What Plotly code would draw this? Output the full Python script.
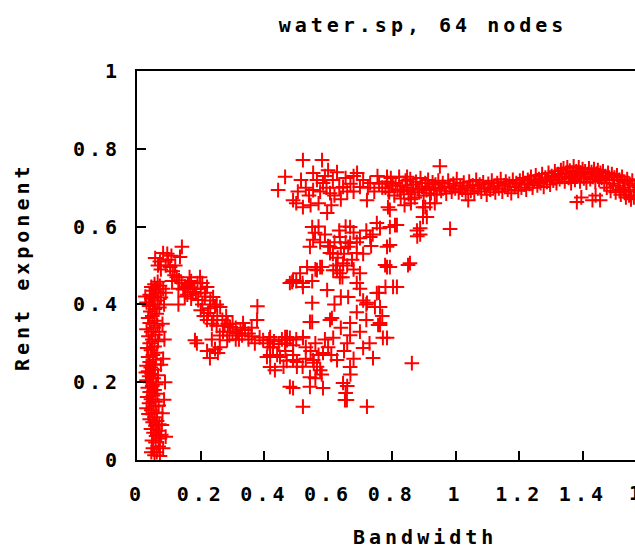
import plotly.graph_objects as go

title_text = "water.sp, 64 nodes"
x_label = "Bandwidth"
y_label = "Rent exponent"
x_ticks = [0, 0.2, 0.4, 0.6, 0.8, 1.0, 1.2, 1.4]
x_tick_labels = ["0", "0.2", "0.4", "0.6", "0.8", "1", "1.2", "1.4"]
cut_tick_label = "1.6"
y_ticks = [0, 0.2, 0.4, 0.6, 0.8, 1.0]
y_tick_labels = ["0", "0.2", "0.4", "0.6", "0.8", "1"]

# narrow spike near zero bandwidth
spike_pts = [
    (0.055, 0.012), (0.062, 0.020), (0.050, 0.030), (0.068, 0.035), (0.058, 0.045), (0.047, 0.050),
    (0.072, 0.055), (0.060, 0.062), (0.052, 0.070), (0.066, 0.075), (0.044, 0.080), (0.058, 0.088),
    (0.070, 0.092), (0.049, 0.097), (0.063, 0.100), (0.078, 0.090), (0.080, 0.120), (0.085, 0.155),
    (0.040, 0.105), (0.055, 0.110), (0.036, 0.118), (0.061, 0.122), (0.045, 0.128), (0.030, 0.133),
    (0.052, 0.138), (0.068, 0.140), (0.038, 0.146), (0.058, 0.150), (0.044, 0.156), (0.032, 0.162),
    (0.050, 0.166), (0.064, 0.170), (0.040, 0.175), (0.055, 0.180), (0.034, 0.186), (0.048, 0.190),
    (0.060, 0.195), (0.042, 0.200), (0.030, 0.205), (0.052, 0.210), (0.038, 0.215), (0.066, 0.218),
    (0.046, 0.222), (0.035, 0.228), (0.056, 0.232), (0.043, 0.238), (0.030, 0.242), (0.050, 0.246),
    (0.075, 0.245), (0.040, 0.252), (0.058, 0.258), (0.035, 0.265), (0.050, 0.270), (0.062, 0.276),
    (0.044, 0.282), (0.032, 0.288), (0.055, 0.292), (0.040, 0.300), (0.066, 0.305), (0.048, 0.310),
    (0.036, 0.318), (0.058, 0.322), (0.045, 0.330), (0.030, 0.336), (0.052, 0.340), (0.064, 0.346),
    (0.040, 0.352), (0.055, 0.358), (0.035, 0.365), (0.048, 0.370), (0.062, 0.376), (0.042, 0.382),
    (0.056, 0.388), (0.070, 0.392), (0.038, 0.396), (0.050, 0.400), (0.030, 0.405), (0.064, 0.410),
    (0.045, 0.415), (0.075, 0.418), (0.055, 0.420), (0.040, 0.425), (0.068, 0.430), (0.050, 0.435),
    (0.060, 0.440), (0.045, 0.445), (0.072, 0.448), (0.055, 0.452), (0.065, 0.458), (0.082, 0.440),
    (0.090, 0.430), (0.085, 0.400), (0.130, 0.400), (0.072, 0.010), (0.045, 0.020), (0.076, 0.065),
    (0.028, 0.225), (0.070, 0.330), (0.026, 0.420), (0.088, 0.200), (0.082, 0.260), (0.086, 0.310),
    (0.080, 0.350), (0.090, 0.060), (0.082, 0.030),
]

# descending branch from the spike top
branch_pts = [
    (0.057, 0.519), (0.072, 0.510), (0.082, 0.532), (0.090, 0.500), (0.098, 0.515), (0.104, 0.496),
    (0.112, 0.485), (0.135, 0.522), (0.141, 0.548), (0.118, 0.475), (0.125, 0.470), (0.132, 0.462),
    (0.140, 0.455), (0.151, 0.445), (0.145, 0.438), (0.160, 0.450), (0.168, 0.440), (0.175, 0.432),
    (0.158, 0.425), (0.185, 0.428), (0.198, 0.470), (0.220, 0.445), (0.192, 0.411), (0.205, 0.400),
    (0.213, 0.420), (0.239, 0.419), (0.223, 0.378), (0.230, 0.390), (0.245, 0.395), (0.261, 0.393),
    (0.252, 0.370), (0.268, 0.360), (0.240, 0.360), (0.275, 0.345), (0.285, 0.350), (0.292, 0.342),
    (0.300, 0.330), (0.314, 0.326), (0.283, 0.308), (0.310, 0.340), (0.325, 0.335), (0.339, 0.334),
    (0.350, 0.325), (0.333, 0.352), (0.360, 0.318), (0.377, 0.360), (0.378, 0.395), (0.182, 0.308),
    (0.188, 0.300), (0.229, 0.262), (0.254, 0.275), (0.260, 0.290), (0.245, 0.285), (0.396, 0.308),
    (0.385, 0.315), (0.410, 0.300), (0.415, 0.310), (0.427, 0.290), (0.418, 0.270), (0.430, 0.305),
    (0.445, 0.298), (0.455, 0.310), (0.465, 0.300), (0.471, 0.308), (0.480, 0.314), (0.466, 0.280),
    (0.490, 0.295), (0.500, 0.310), (0.502, 0.240), (0.502, 0.252), (0.433, 0.231), (0.460, 0.240),
    (0.408, 0.265), (0.440, 0.270), (0.470, 0.255), (0.490, 0.257), (0.490, 0.270), (0.521, 0.316),
    (0.360, 0.340), (0.350, 0.310), (0.370, 0.300), (0.320, 0.310), (0.300, 0.350), (0.215, 0.430),
    (0.200, 0.440), (0.190, 0.455), (0.170, 0.460), (0.120, 0.500), (0.108, 0.525), (0.095, 0.530),
    (0.075, 0.490), (0.066, 0.500), (0.200, 0.385), (0.210, 0.370), (0.235, 0.350), (0.250, 0.345),
    (0.270, 0.330), (0.260, 0.320), (0.235, 0.310), (0.220, 0.280), (0.418, 0.316), (0.449, 0.265),
    (0.418, 0.239), (0.418, 0.290), (0.465, 0.316), (0.110, 0.460), (0.130, 0.440), (0.150, 0.420),
    (0.170, 0.415), (0.180, 0.440), (0.230, 0.410), (0.250, 0.400), (0.220, 0.360), (0.280, 0.370),
    (0.290, 0.320), (0.310, 0.310), (0.330, 0.320), (0.205, 0.455), (0.165, 0.470),
]

# scattered cloud between 0.45 and 0.9
cloud_pts = [
    (0.487, 0.458), (0.520, 0.455), (0.550, 0.460), (0.560, 0.490), (0.637, 0.480), (0.663, 0.419),
    (0.710, 0.410), (0.720, 0.400), (0.550, 0.355), (0.606, 0.360), (0.669, 0.352), (0.763, 0.347),
    (0.785, 0.314), (0.741, 0.262), (0.521, 0.137), (0.722, 0.137), (0.653, 0.154), (0.543, 0.188),
    (0.565, 0.240), (0.490, 0.185), (0.512, 0.480), (0.575, 0.496), (0.628, 0.488), (0.637, 0.470),
    (0.700, 0.480), (0.785, 0.496), (0.851, 0.501), (0.480, 0.455), (0.521, 0.445), (0.597, 0.437),
    (0.722, 0.404), (0.747, 0.393), (0.804, 0.445), (0.550, 0.404), (0.543, 0.355), (0.612, 0.365),
    (0.757, 0.347), (0.669, 0.321), (0.616, 0.314), (0.710, 0.288), (0.863, 0.249), (0.471, 0.316),
    (0.521, 0.314), (0.490, 0.257), (0.553, 0.257), (0.584, 0.275), (0.628, 0.257), (0.669, 0.239),
    (0.575, 0.231), (0.543, 0.213), (0.480, 0.188), (0.584, 0.185), (0.647, 0.198), (0.655, 0.172),
    (0.659, 0.154), (0.530, 0.290), (0.545, 0.280), (0.560, 0.300), (0.570, 0.270), (0.555, 0.250),
    (0.530, 0.260), (0.520, 0.240), (0.580, 0.220), (0.560, 0.210), (0.600, 0.290), (0.590, 0.310),
    (0.610, 0.270), (0.640, 0.340), (0.660, 0.300), (0.650, 0.280), (0.680, 0.260), (0.670, 0.220),
    (0.660, 0.190), (0.700, 0.330), (0.720, 0.360), (0.730, 0.300), (0.640, 0.420), (0.620, 0.400),
    (0.690, 0.380), (0.760, 0.430), (0.794, 0.496), (0.816, 0.445), (0.753, 0.429), (0.763, 0.393),
    (0.763, 0.352), (0.772, 0.314), (0.779, 0.501), (0.780, 0.445), (0.770, 0.370), (0.857, 0.506),
    (0.490, 0.463), (0.500, 0.460), (0.565, 0.488), (0.534, 0.496), (0.581, 0.496), (0.616, 0.488),
    (0.647, 0.506),
]

# middle group around 0.5-0.62
mid_pts = [
    (0.550, 0.599), (0.559, 0.584), (0.553, 0.566), (0.606, 0.548), (0.637, 0.573), (0.663, 0.548),
    (0.669, 0.599), (0.690, 0.532), (0.732, 0.573), (0.753, 0.609), (0.810, 0.604), (0.785, 0.548),
    (0.606, 0.532), (0.543, 0.548), (0.620, 0.560), (0.640, 0.545), (0.650, 0.530), (0.655, 0.560),
    (0.630, 0.520), (0.660, 0.500), (0.675, 0.515), (0.680, 0.490), (0.645, 0.470), (0.690, 0.455),
    (0.700, 0.440), (0.625, 0.500), (0.615, 0.530), (0.600, 0.550), (0.590, 0.580), (0.570, 0.600),
    (0.575, 0.560), (0.635, 0.590), (0.655, 0.600), (0.680, 0.585), (0.700, 0.570), (0.720, 0.590),
    (0.740, 0.580), (0.735, 0.550), (0.710, 0.530), (0.690, 0.560), (0.669, 0.558), (0.794, 0.553),
    (0.794, 0.599), (0.763, 0.596), (0.816, 0.604), (0.794, 0.643), (0.898, 0.650), (0.910, 0.625),
    (0.889, 0.596), (0.889, 0.580), (0.879, 0.590), (0.880, 0.575), (0.898, 0.625), (0.983, 0.594),
]

# upper cluster 0.44-0.86 around 0.65-0.77
upper_pts = [
    (0.521, 0.771), (0.581, 0.771), (0.465, 0.728), (0.443, 0.694), (0.490, 0.668), (0.521, 0.650),
    (0.553, 0.738), (0.553, 0.694), (0.584, 0.712), (0.606, 0.686), (0.628, 0.740), (0.647, 0.702),
    (0.660, 0.690), (0.691, 0.738), (0.700, 0.702), (0.722, 0.668), (0.732, 0.712), (0.785, 0.728),
    (0.790, 0.690), (0.788, 0.650), (0.826, 0.694), (0.848, 0.728), (0.860, 0.670), (0.597, 0.635),
    (0.530, 0.700), (0.540, 0.680), (0.565, 0.720), (0.575, 0.690), (0.595, 0.700), (0.615, 0.720),
    (0.620, 0.680), (0.635, 0.700), (0.655, 0.725), (0.670, 0.710), (0.680, 0.690), (0.710, 0.720),
    (0.725, 0.700), (0.745, 0.690), (0.760, 0.710), (0.770, 0.700), (0.505, 0.690), (0.515, 0.720),
    (0.500, 0.660), (0.570, 0.660), (0.610, 0.655), (0.640, 0.670), (0.600, 0.745), (0.590, 0.730),
    (0.545, 0.655), (0.680, 0.730), (0.755, 0.730), (0.800, 0.710), (0.860, 0.660), (0.840, 0.655),
    (0.905, 0.650), (0.920, 0.660), (0.935, 0.660), (0.951, 0.755), (1.040, 0.668),
]

# dense plateau band from 0.78 to the right edge
band_pts = [
    (0.780, 0.700), (0.786, 0.715), (0.792, 0.688), (0.797, 0.725), (0.803, 0.705), (0.808, 0.680),
    (0.812, 0.712), (0.818, 0.695), (0.823, 0.728), (0.828, 0.672), (0.833, 0.705), (0.838, 0.690),
    (0.843, 0.718), (0.848, 0.700), (0.853, 0.683), (0.858, 0.722), (0.862, 0.695), (0.867, 0.708),
    (0.872, 0.675), (0.876, 0.715), (0.881, 0.698), (0.886, 0.688), (0.890, 0.725), (0.895, 0.703),
    (0.900, 0.680), (0.905, 0.712), (0.909, 0.694), (0.914, 0.720), (0.918, 0.700), (0.923, 0.686),
    (0.928, 0.714), (0.932, 0.697), (0.937, 0.708), (0.941, 0.682), (0.946, 0.718), (0.950, 0.700),
    (0.955, 0.692), (0.960, 0.712), (0.966, 0.700), (0.971, 0.685), (0.977, 0.718), (0.982, 0.703),
    (0.988, 0.690), (0.993, 0.710), (0.999, 0.698), (1.004, 0.722), (1.010, 0.688), (1.015, 0.705),
    (1.021, 0.695), (1.026, 0.713), (1.032, 0.684), (1.037, 0.700), (1.043, 0.716), (1.048, 0.692),
    (1.054, 0.706), (1.059, 0.686), (1.065, 0.720), (1.070, 0.698), (1.076, 0.708), (1.081, 0.690),
    (1.087, 0.714), (1.092, 0.700), (1.098, 0.682), (1.103, 0.710), (1.109, 0.695), (1.114, 0.718),
    (1.120, 0.703), (1.125, 0.688), (1.131, 0.712), (1.136, 0.698), (1.142, 0.722), (1.147, 0.690),
    (1.153, 0.706), (1.158, 0.716), (1.164, 0.695), (1.169, 0.710), (1.175, 0.686), (1.180, 0.720),
    (1.186, 0.702), (1.191, 0.712), (1.197, 0.692), (1.202, 0.718), (1.207, 0.700), (1.212, 0.725),
    (1.217, 0.708), (1.222, 0.695), (1.227, 0.720), (1.232, 0.710), (1.237, 0.728), (1.242, 0.700),
    (1.247, 0.716), (1.252, 0.732), (1.257, 0.706), (1.262, 0.722), (1.267, 0.712), (1.272, 0.735),
    (1.277, 0.702), (1.282, 0.726), (1.287, 0.715), (1.292, 0.738), (1.297, 0.708), (1.302, 0.730),
    (1.307, 0.718), (1.312, 0.742), (1.317, 0.712), (1.322, 0.735), (1.327, 0.722), (1.331, 0.745),
    (1.335, 0.728), (1.339, 0.750), (1.343, 0.716), (1.347, 0.738), (1.351, 0.752), (1.355, 0.725),
    (1.359, 0.744), (1.363, 0.712), (1.367, 0.733), (1.371, 0.755), (1.375, 0.720), (1.379, 0.742),
    (1.383, 0.730), (1.387, 0.752), (1.391, 0.716), (1.395, 0.738), (1.399, 0.748), (1.403, 0.724),
    (1.407, 0.742), (1.411, 0.713), (1.415, 0.735), (1.419, 0.750), (1.423, 0.722), (1.427, 0.740),
    (1.431, 0.728), (1.435, 0.748), (1.439, 0.715), (1.443, 0.736), (1.447, 0.745), (1.451, 0.720),
    (1.455, 0.738), (1.459, 0.725), (1.381, 0.663), (1.430, 0.668), (1.454, 0.668), (1.395, 0.675),
    (1.440, 0.680), (1.463, 0.742), (1.467, 0.712), (1.471, 0.730), (1.475, 0.700), (1.479, 0.738),
    (1.483, 0.720), (1.487, 0.692), (1.491, 0.735), (1.495, 0.710), (1.499, 0.726), (1.503, 0.688),
    (1.507, 0.732), (1.511, 0.705), (1.515, 0.720), (1.519, 0.682), (1.523, 0.728), (1.527, 0.700),
    (1.531, 0.715), (1.535, 0.675), (1.539, 0.722), (1.543, 0.695), (1.547, 0.710), (1.551, 0.670),
    (1.555, 0.718), (1.559, 0.690), (1.563, 0.705), (1.545, 0.680), (1.530, 0.690), (1.515, 0.695),
    (1.560, 0.675),
]

all_pts = spike_pts + branch_pts + cloud_pts + mid_pts + upper_pts + band_pts
xs = [p[0] for p in all_pts]
ys = [p[1] for p in all_pts]

FONT = "DejaVu Sans Mono"
TXT = dict(family=FONT, size=20, color="black", weight="bold")

fig = go.Figure()
fig.add_trace(go.Scatter(
    x=xs, y=ys, mode="markers",
    marker=dict(symbol="cross-thin", size=10.5, color="#ff0000",
                line=dict(color="#ff0000", width=2)),
    cliponaxis=True, showlegend=False,
))

fig.update_layout(
    width=635, height=548,
    margin=dict(l=137, r=0, t=71, b=88),
    paper_bgcolor="white", plot_bgcolor="white",
    font=TXT,
    title=dict(text=title_text, x=423 / 635, xref="container", xanchor="center",
               y=1 - 25 / 548, yref="container", yanchor="middle", font=TXT),
    xaxis=dict(range=[0, 498 / 318.5], tickvals=x_ticks, ticktext=x_tick_labels,
               ticks="inside", ticklen=9, tickwidth=1.5, tickcolor="black",
               showline=True, linecolor="black", linewidth=2, mirror=True,
               showgrid=False, zeroline=False, ticklabelstandoff=15),
    yaxis=dict(range=[0, 1], tickvals=y_ticks, ticktext=y_tick_labels,
               ticks="inside", ticklen=9, tickwidth=1.5, tickcolor="black",
               showline=True, linecolor="black", linewidth=2,
               showgrid=False, zeroline=False, ticklabelstandoff=10),
    annotations=[
        dict(text=x_label, xref="paper", yref="paper", x=(425 - 137) / 498, y=(460 - 537) / 389,
             xanchor="center", yanchor="middle", showarrow=False, font=TXT),
        dict(text=y_label, xref="paper", yref="paper", x=(22 - 137) / 498, y=(460 - 267) / 389,
             xanchor="center", yanchor="middle", textangle=-90, showarrow=False, font=TXT),
        dict(text=cut_tick_label, xref="paper", yref="paper", x=(633 - 137) / 498, y=(460 - 493) / 389,
             xanchor="left", yanchor="middle", showarrow=False, font=TXT),
    ],
)

# widen the character pitch to resemble the wide bitmap font of the original
post = ("document.querySelectorAll('svg text').forEach(function(t){"
        "t.style.letterSpacing='4px';});")
fig.write_html("out.html", config={"displayModeBar": False}, post_script=post)
